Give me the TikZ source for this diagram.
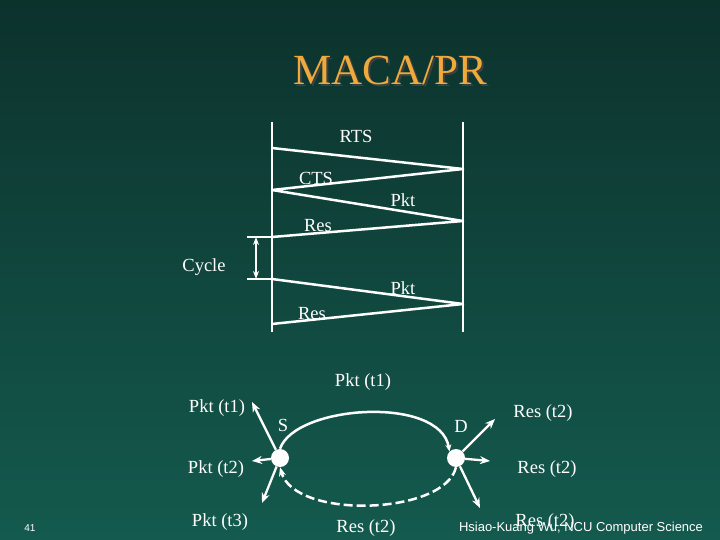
\documentclass[tikz,border=0pt]{standalone}
\usepackage{fontspec}
\setmainfont{Liberation Serif}
\newfontfamily\footfont{Liberation Sans}
\usetikzlibrary{arrows.meta}
\definecolor{bgtop}{RGB}{12,50,44}
\definecolor{bgbot}{RGB}{20,90,78}
\definecolor{titlecol}{RGB}{240,170,60}
\begin{document}
\begin{tikzpicture}[x=1pt,y=-1pt,
  ln/.style={white,line width=2.5pt,line join=round},
  lbl/.style={white,font=\fontsize{18.5}{18.5}\selectfont,inner sep=0pt},
  arr/.style={white,line width=2.3pt,-{Stealth[length=10pt,width=8pt]}},
  dot/.style={circle,fill=white,minimum size=18pt,inner sep=0pt}]
\shade[top color=bgtop,bottom color=bgbot] (0,0) rectangle (720,540);
\useasboundingbox (0,0) rectangle (720,540);
\node[text=black!75,font=\fontsize{43}{43}\selectfont] at (392.5,72.5) {MACA/PR};
\node (title) [text=titlecol,font=\fontsize{43}{43}\selectfont] at (390,70) {MACA/PR};
% timing
\coordinate (L0) at (272,122); \coordinate (L1) at (272,332);
\coordinate (R0) at (463,122); \coordinate (R1) at (463,332);
\draw[ln] (L0)--(L1); \draw[ln] (R0)--(R1);
\coordinate (a) at (272,148); \coordinate (b) at (463,169);
\coordinate (c) at (272,190); \coordinate (d) at (463,221);
\coordinate (e) at (272,237); \coordinate (f) at (272,279);
\coordinate (g) at (463,304); \coordinate (h) at (272,324);
\draw[ln] (a)--(b)--(c)--(d)--(e);
\draw[ln] (f)--(g)--(h);
\coordinate (e0) at (247,237); \coordinate (f0) at (247,279);
\draw[ln] (e0)--(e); \draw[ln] (f0)--(f);
\coordinate (ea) at (256,237); \coordinate (fa) at (256,279);
\draw[white,line width=1.8pt,{Stealth[length=8pt,width=6pt]}-{Stealth[length=8pt,width=6pt]}] (ea)--(fa);
\node[lbl] at (356,136) {RTS};
\node[lbl] at (316,178) {CTS};
\node[lbl] at (403,200) {Pkt};
\node[lbl] at (318,226) {Res};
\node[lbl] at (204,267) {Cycle};
\node[lbl] at (403,288) {Pkt};
\node[lbl] at (312,314) {Res};
% bottom
\node[dot] (S) at (280,458) {};
\node[dot] (D) at (456,458) {};
\draw[ln,-{Stealth[length=7pt,width=6pt]}] (S.north) .. controls (295,405) and (440,395) .. (D.north west);
\draw[ln,dash pattern=on 9pt off 4pt,-{Stealth[length=9pt,width=7pt]}] (D.south) .. controls (445,515) and (295,520) .. (S.south);
\coordinate (s1) at (252,402); \coordinate (s2) at (252,461); \coordinate (s3) at (262,503);
\coordinate (d1) at (495,419); \coordinate (d2) at (490,461); \coordinate (d3) at (480,508);
\draw[arr] (S)--(s1); \draw[arr] (S)--(s2); \draw[arr] (S)--(s3);
\draw[arr] (D)--(d1); \draw[arr] (D)--(d2); \draw[arr] (D)--(d3);
\node[lbl] at (217,408) {Pkt (t1)};
\node[lbl] at (216,469) {Pkt (t2)};
\node[lbl] at (220,522) {Pkt (t3)};
\node[lbl] at (283,425) {S};
\node[lbl] at (461,426) {D};
\node[lbl] at (363,382) {Pkt (t1)};
\node[lbl] at (543,413) {Res (t2)};
\node[lbl] at (547,469) {Res (t2)};
\node[lbl] at (366,528) {Res (t2)};
\node[lbl] at (545,522) {Res (t2)};
\node[white,font=\footfont\fontsize{13}{13}\selectfont,inner sep=0pt] at (581,528) {Hsiao-Kuang Wu, NCU Computer Science};
\node[white,font=\footfont\fontsize{10}{10}\selectfont,inner sep=0pt] at (30,528) {41};
\end{tikzpicture}
\end{document}
